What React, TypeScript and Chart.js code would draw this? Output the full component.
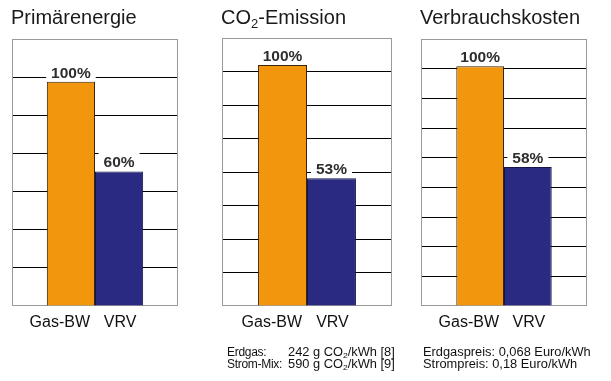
import React, { useEffect, useRef } from "react";
import { Chart, registerables } from "chart.js";

Chart.register(...registerables);

const categories = ["Gas-BW", "VRV"];
const primaryEnergy = [100, 60];
const co2Emission = [100, 53];
const consumptionCost = [100, 58];
const axisMax = [119, 111.2, 111.4];
const axisStep = [17, 13.9, 12.375];

const footLeftLabels = ["Erdgas:", "Strom-Mix:"];
const footLeftValues = ["242", "590"];
const footLeftRefs = ["[8]", "[9]"];
const footRight = ["Erdgaspreis: 0,068 Euro/kWh", "Strompreis: 0,18 Euro/kWh"];

const barColors = ["#F2960E", "#2B2A82"];
const barBorders = ["#3a2508", "#16154a"];
const FONT = '"Liberation Sans", Arial, Helvetica, sans-serif';

type PanelCfg = {
  values: number[];
  max: number;
  step: number;
  left: number;
  width: number;
  pad: { left: number; right: number; top: number; bottom: number };
  cat: number;
};

const panels: PanelCfg[] = [
  { values: primaryEnergy, max: axisMax[0], step: axisStep[0], left: 0, width: 200, pad: { left: 12, right: 22, top: 39, bottom: 75 }, cat: 0.58 },
  { values: co2Emission, max: axisMax[1], step: axisStep[1], left: 200, width: 210, pad: { left: 22, right: 18, top: 38, bottom: 75 }, cat: 0.576 },
  { values: consumptionCost, max: axisMax[2], step: axisStep[2], left: 405, width: 206, pad: { left: 16, right: 24, top: 39, bottom: 75 }, cat: 0.575 },
];

const boxPlugin = {
  id: "boxPlugin",
  beforeDatasetsDraw(chart: any) {
    const { ctx, chartArea } = chart;
    ctx.save();
    ctx.strokeStyle = "#9a9a9a";
    ctx.lineWidth = 1;
    ctx.strokeRect(chartArea.left + 0.5, chartArea.top + 0.5, chartArea.right - chartArea.left - 1, chartArea.bottom - chartArea.top - 1);
    ctx.restore();
  },
};

const labelPlugin = {
  id: "labelPlugin",
  afterDatasetsDraw(chart: any) {
    const { ctx, chartArea } = chart;
    ctx.save();
    chart.data.datasets.forEach((ds: any, i: number) => {
      const el = chart.getDatasetMeta(i).data[0];
      if (!el) return;
      const text = ds.data[0] + "%";
      ctx.font = "bold 15.5px " + FONT;
      const w = ctx.measureText(text).width;
      const base = el.y - 4;
      ctx.fillStyle = "#ffffff";
      ctx.fillRect(el.x - w / 2 - 5, base - 15, w + 10, 16);
      ctx.fillStyle = "#2e2e2e";
      ctx.textAlign = "center";
      ctx.textBaseline = "alphabetic";
      ctx.fillText(text, el.x, base);
      ctx.font = "16px " + FONT;
      ctx.fillStyle = "#111111";
      if (i === 0) {
        ctx.textAlign = "right";
        ctx.fillText(ds.label, el.x + el.width / 2 - 5, chartArea.bottom + 21);
      } else {
        ctx.textAlign = "center";
        ctx.fillText(ds.label, el.x + 1, chartArea.bottom + 21);
      }
    });
    ctx.restore();
  },
};

function Panel({ cfg }: { cfg: PanelCfg }) {
  const ref = useRef<HTMLCanvasElement>(null);
  useEffect(() => {
    if (!ref.current) return;
    const chart = new Chart(ref.current, {
      type: "bar",
      data: {
        labels: [""],
        datasets: categories.map((c, i) => ({
          label: c,
          data: [cfg.values[i]],
          backgroundColor: barColors[i],
          borderColor: barBorders[i],
          borderWidth: 1,
          categoryPercentage: cfg.cat,
          barPercentage: 1,
        })),
      },
      options: {
        responsive: false,
        animation: false,
        layout: { padding: cfg.pad },
        plugins: { legend: { display: false }, tooltip: { enabled: false } },
        scales: {
          x: { display: false },
          y: {
            min: 0,
            max: cfg.max,
            ticks: { display: false, stepSize: cfg.step },
            grid: {
              drawTicks: false,
              lineWidth: 1,
              color: (ctx: any) =>
                ctx.index === 0 || (ctx.tick && ctx.tick.value >= cfg.max - 0.01) ? "rgba(0,0,0,0)" : "#000000",
            },
            border: { display: false },
          },
        },
      } as any,
      plugins: [boxPlugin, labelPlugin],
    });
    return () => chart.destroy();
  }, [cfg]);
  return (
    <canvas
      ref={ref}
      width={cfg.width}
      height={381}
      style={{ position: "absolute", left: cfg.left, top: 0, width: cfg.width, height: 381 }}
    />
  );
}

const titleStyle: React.CSSProperties = {
  position: "absolute",
  top: 7,
  fontFamily: FONT,
  fontSize: 20,
  lineHeight: "20px",
  color: "#1a1a1a",
  whiteSpace: "nowrap",
};

const footBase: React.CSSProperties = {
  position: "absolute",
  fontFamily: FONT,
  fontSize: 12,
  lineHeight: "12px",
  color: "#111",
  whiteSpace: "nowrap",
};

const footStyle: React.CSSProperties = {
  ...footBase,
  transform: "scaleX(1.07)",
  transformOrigin: "left top",
};

export default function App() {
  return (
    <div style={{ position: "absolute", left: 0, top: 0, width: 611, height: 381, background: "#fff", overflow: "hidden" }}>
      {panels.map((p, i) => (
        <Panel key={i} cfg={p} />
      ))}
      <div style={{ ...titleStyle, left: 11 }}>Primärenergie</div>
      <div style={{ ...titleStyle, left: 221 }}>
        CO<span style={{ fontSize: 13, position: "relative", top: 4 }}>2</span>-Emission
      </div>
      <div style={{ ...titleStyle, left: 420 }}>Verbrauchskosten</div>
      {footLeftLabels.map((l, i) => (
        <React.Fragment key={"l" + i}>
          <div style={{ ...footBase, left: 227, top: 346 + i * 12, letterSpacing: "-0.3px" }}>{l}</div>
          <div style={{ ...footStyle, left: 288, top: 346 + i * 12 }}>
            {footLeftValues[i]} g CO<span style={{ fontSize: 8, position: "relative", top: 2 }}>2</span>/kWh {footLeftRefs[i]}
          </div>
        </React.Fragment>
      ))}
      {footRight.map((t, i) => (
        <div key={"r" + i} style={{ ...footStyle, left: 423, top: 346 + i * 12 }}>
          {t}
        </div>
      ))}
    </div>
  );
}
